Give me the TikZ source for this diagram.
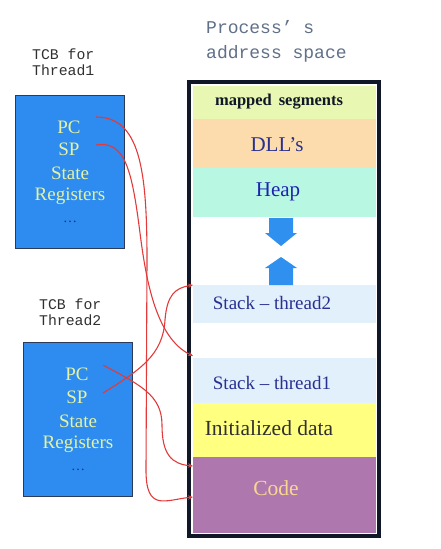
\documentclass[tikz,border=0pt]{standalone}
\usepackage{fontspec}
\setmainfont{Liberation Serif}
\newfontfamily\monof{Liberation Mono}
\usetikzlibrary{arrows.meta}
\definecolor{tcbfill}{HTML}{2E8CF0}
\definecolor{tcbborder}{HTML}{2A3A5A}
\definecolor{tcbtext}{HTML}{E6F2A2}
\definecolor{dotc}{HTML}{1A2A8A}
\definecolor{mappedc}{HTML}{E8F8B2}
\definecolor{dllc}{HTML}{FCDCAC}
\definecolor{heapc}{HTML}{B8F8E2}
\definecolor{stackc}{HTML}{E2F0FC}
\definecolor{initc}{HTML}{FFFF80}
\definecolor{codec}{HTML}{AE78AE}
\definecolor{codetext}{HTML}{F8D890}
\definecolor{navy}{HTML}{2A3090}
\definecolor{framec}{HTML}{101828}
\definecolor{arrowc}{HTML}{3090F0}
\definecolor{linkc}{HTML}{E23A3A}
\definecolor{titlec}{HTML}{607088}
\definecolor{lblc}{HTML}{303030}
\begin{document}
\begin{tikzpicture}[x=1pt,y=-1pt,
  tcb/.style={draw=tcbborder, line width=1, fill=tcbfill, minimum width=109, minimum height=153, inner sep=0, outer sep=0},
  tcbtxt/.style={text=tcbtext, font=\fontsize{19}{22}\selectfont, inner sep=0},
  dots/.style={text=dotc, font=\fontsize{14}{16}\selectfont, inner sep=0},
  lbl/.style={text=lblc, font=\monof\fontsize{14.8}{16}\selectfont, align=left, anchor=west, inner sep=0},
  ttl/.style={text=titlec, font=\monof\fontsize{18}{25}\selectfont, align=left, anchor=west, inner sep=0},
  seg/.style={minimum width=183, inner sep=0, outer sep=0, draw=none},
  segtxt/.style={inner sep=0, font=\fontsize{19}{22}\selectfont},
  link/.style={draw=linkc, line width=1.1, -{Stealth[length=5,width=4.5]}},
  bigarrow/.style={fill=arrowc, draw=none}
]
\useasboundingbox (0,0) rectangle (440,549);

% titles
\node[lbl] (lbl1) at (32,62) {TCB for\\Thread1};
\node[lbl] (lbl2) at (39,312) {TCB for\\Thread2};
\node[ttl] (title) at (206,41) {Process’ s\\address space};

% TCB boxes
\node[tcb] (tcb1) at (69.5,171.5) {};
\node[tcbtxt] (pc1) at (69,127) {PC};
\node[tcbtxt] (sp1) at (69,149) {SP};
\node[tcbtxt] (st1) at (70,173) {State};
\node[tcbtxt] (rg1) at (70,196) {Registers};
\node[dots] (dt1) at (70,222) {\ldots};

\node[tcb, minimum height=154] (tcb2) at (77.5,419) {};
\node[tcbtxt] (pc2) at (77,374) {PC};
\node[tcbtxt] (sp2) at (77,397) {SP};
\node[tcbtxt] (st2) at (78,421) {State};
\node[tcbtxt] (rg2) at (78,444) {Registers};
\node[dots] (dt2) at (78,470) {\ldots};

% address space frame
\draw[line width=3.5, draw=framec, fill=white] (189,82) rectangle (379,536);

\node[seg, fill=mappedc, minimum height=33] (mapped) at (284.5,102.5) {};
\node[seg, fill=dllc, minimum height=49] (dll) at (284.5,143.5) {};
\node[seg, fill=heapc, minimum height=49] (heap) at (284.5,192.5) {};
\node[seg, fill=stackc, minimum height=38] (stack2) at (284.5,304) {};
\node[seg, fill=stackc, minimum height=45] (stack1) at (284.5,380.5) {};
\node[seg, fill=initc, minimum height=54] (init) at (284.5,430) {};
\node[seg, fill=codec, minimum height=76] (code) at (284.5,495) {};

\node[segtxt, text=framec, font=\bfseries\fontsize{16.5}{18}\selectfont] (mappedt) at (279,102) {mapped\, segments};
\node[segtxt, text=navy, font=\fontsize{21}{24}\selectfont] (dllt) at (277,145) {DLL’s};
\node[segtxt, text=navy!70!blue, font=\fontsize{21}{24}\selectfont] (heapt) at (278,192) {Heap};
\node[segtxt, text=navy] (stack2t) at (272,303) {Stack – thread2};
\node[segtxt, text=navy] (stack1t) at (272,383) {Stack – thread1};
\node[segtxt, text=lblc, font=\fontsize{21.5}{24}\selectfont] (initt) at (269,428) {Initialized data};
\node[segtxt, text=codetext, font=\fontsize{21.5}{24}\selectfont] (codet) at (276,488) {Code};

% growth arrows
\fill[bigarrow] (269,218) -- (293,218) -- (293,233) -- (297,233) -- (281,246) -- (265,233) -- (269,233) -- cycle;
\fill[bigarrow] (269,285) -- (293,285) -- (293,268) -- (297,268) -- (281,257) -- (265,268) -- (269,268) -- cycle;

% link endpoints
\coordinate (s1pc) at (96,117);
\coordinate (s1sp) at (96,145);
\coordinate (s2pc) at (103,365);
\coordinate (s2sp) at (103,393);
\coordinate (e1) at (stack2.north west);
\coordinate (e2) at ([yshift=2]stack1.north west);
\coordinate (e3) at ([yshift=-9]code.north west);
\coordinate (e4) at ([yshift=-40]code.north west);

% links
\draw[link] (s1pc) .. controls (140,117) and (147,170) .. (147,260)
  -- (146,470) .. controls (146,512) and (165,500) .. (e4);
\draw[link] (s1sp) .. controls (125,140) and (132,170) .. (140,233)
  .. controls (146,280) and (156,338) .. (e2);
\draw[link] (s2pc) .. controls (140,385) and (162,395) .. (162,425)
  .. controls (162,455) and (172,464) .. (e3);
\draw[link] (s2sp) .. controls (140,370) and (163,355) .. (165,320)
  .. controls (167,295) and (175,288) .. (e1);
\end{tikzpicture}
\end{document}
